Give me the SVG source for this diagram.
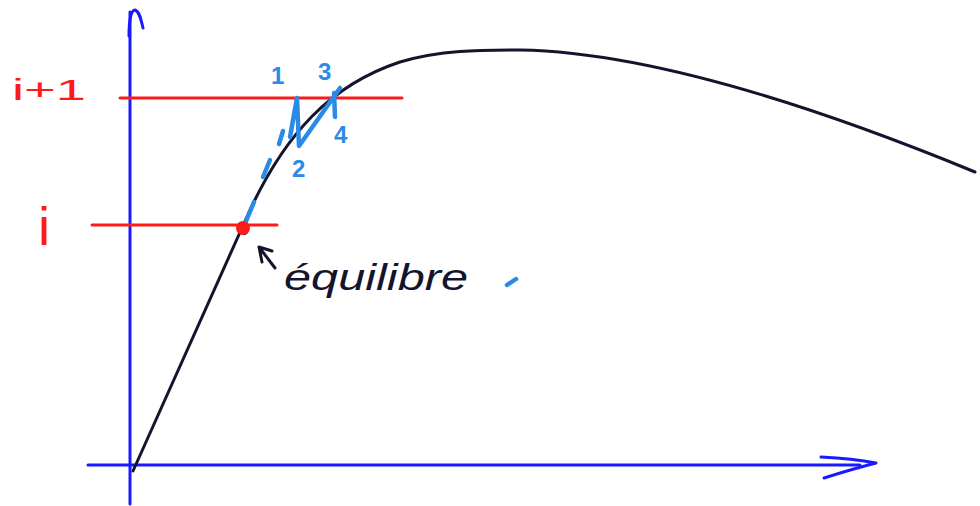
<svg xmlns="http://www.w3.org/2000/svg" width="980" height="506" viewBox="0 0 980 506">
<defs>
<linearGradient id="yfade" x1="0" y1="0" x2="0" y2="1">
<stop offset="0" stop-color="#8a8aff"/>
<stop offset="0.3" stop-color="#6a6aff"/>
<stop offset="0.45" stop-color="#1a1aff"/>
<stop offset="1" stop-color="#1a1aff"/>
</linearGradient>
<linearGradient id="hfade" x1="0" y1="0" x2="1" y2="0">
<stop offset="0" stop-color="#ff1a1a" stop-opacity="0.2"/>
<stop offset="0.06" stop-color="#ff1a1a"/>
<stop offset="1" stop-color="#ff1a1a"/>
</linearGradient>
</defs>
<style>
.axis{stroke:#1a1aff;stroke-width:3;fill:none;stroke-linecap:round;stroke-linejoin:round}
.red{stroke:#ff1a1a;stroke-width:3;fill:none;stroke-linecap:round}
.blue{stroke:#2a8be6;stroke-width:4.5;fill:none;stroke-linecap:round;stroke-linejoin:round}
.curve{stroke:#14142e;stroke-width:3;fill:none;stroke-linecap:round}
.ink{stroke:#14142e;stroke-width:3;fill:none;stroke-linecap:round;stroke-linejoin:round}
.lblr{font-family:"Liberation Sans",Arial,sans-serif;fill:#ff1a1a}
.lblb{font-family:"Liberation Sans",Arial,sans-serif;fill:#2a8be6;font-size:24px;font-weight:bold}
.lblk{font-family:"Liberation Sans",Arial,sans-serif;fill:#14142e}
</style>
<g id="connectors">
<path class="axis" d="M130,504 L130,12" stroke="url(#yfade)"/>
<path class="axis" d="M129,36 C129,20 131,10 135,10 C140,12 141,20 143,28" stroke="#4a4aff" stroke-width="4"/>
<path class="axis" d="M88,465 L860,465"/>
<path class="axis" d="M821,457 C840,458 860,460 876,463 C860,467 840,473 824,478" stroke-width="3.5"/>
</g>
<g id="curve">
<path class="curve" d="M133,471 L250,210 C285,135 330,85 400,62 C440,50 480,50 520,50 C640,52 800,100 975,172"/>
</g>
<g id="level-i1">
<path class="red" d="M120,98 L402,98" stroke="url(#hfade)"/>
<text class="lblr" x="12" y="100" font-size="30" textLength="74" lengthAdjust="spacingAndGlyphs">i+1</text>
</g>
<g id="level-i">
<path class="red" d="M92,225 L277,225"/>
<text class="lblr" x="38" y="245" font-size="54">i</text>
</g>
<g id="iterations">
<path class="blue" d="M244,226 L254,202"/>
<path class="blue" d="M263,177 L270,160"/>
<path class="blue" d="M279,144 L283,131"/>
<path class="blue" d="M290,137 L297,98 L299,146 L340,88"/>
<path class="blue" d="M334,93 L335,117"/>
<text class="lblb" x="271" y="84">1</text>
<text class="lblb" x="318" y="80">3</text>
<text class="lblb" x="292" y="177">2</text>
<text class="lblb" x="334" y="143">4</text>
<path class="blue" d="M507,285 L516,279" stroke-width="4"/>
</g>
<g id="equilibre">
<circle cx="244" cy="231" r="4" fill="#14142e"/>
<circle cx="243" cy="228" r="7" fill="#ff1a1a"/>
<path class="ink" d="M275,268 L259,247 M259,247 L262,262 M259,247 L272,251"/>
<text class="lblk" x="284" y="290" font-size="36" font-style="italic" textLength="184" lengthAdjust="spacingAndGlyphs">équilibre</text>
</g>
</svg>
